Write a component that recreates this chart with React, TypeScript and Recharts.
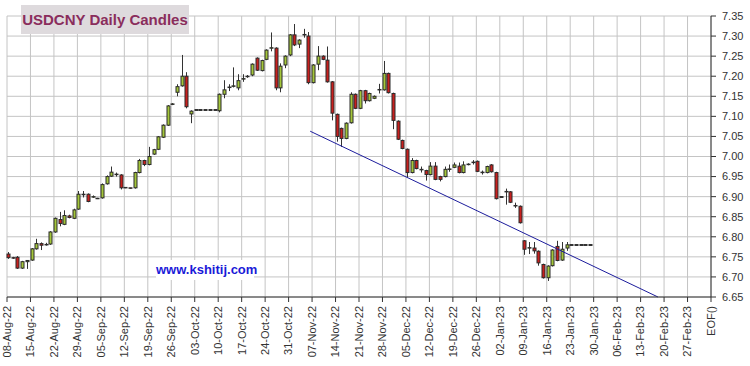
import React from 'react';
import { ComposedChart, Bar, XAxis, YAxis, CartesianGrid, ReferenceLine } from 'recharts';

// week starts shown on the x axis (one gridline per Monday), plus the end-of-frame marker
const weekLabels = [
  '08-Aug-22', '15-Aug-22', '22-Aug-22', '29-Aug-22', '05-Sep-22', '12-Sep-22',
  '19-Sep-22', '26-Sep-22', '03-Oct-22', '10-Oct-22', '17-Oct-22', '24-Oct-22',
  '31-Oct-22', '07-Nov-22', '14-Nov-22', '21-Nov-22', '28-Nov-22', '05-Dec-22',
  '12-Dec-22', '19-Dec-22', '26-Dec-22', '02-Jan-23', '09-Jan-23', '16-Jan-23',
  '23-Jan-23', '30-Jan-23', '06-Feb-23', '13-Feb-23', '20-Feb-23', '27-Feb-23',
];
const endLabel = 'EOF()';

// daily OHLC, one row per week (Mon..Fri)
const opens = [
  6.757, 6.748, 6.749, 6.722, 6.738,
  6.742, 6.770, 6.783, 6.780, 6.782,
  6.812, 6.843, 6.831, 6.852, 6.846,
  6.869, 6.906, 6.906, 6.899, 6.895,
  6.897, 6.932, 6.951, 6.956, 6.954,
  6.922, 6.922, 6.922, 6.960, 6.990,
  6.980, 7.006, 7.018, 7.048, 7.078,
  7.130, 7.160, 7.176, 7.200, 7.106,
  7.115, 7.115, 7.115, 7.115, 7.115,
  7.114, 7.155, 7.172, 7.175, 7.171,
  7.193, 7.199, 7.203, 7.245, 7.214,
  7.242, 7.270, 7.270, 7.171, 7.228,
  7.253, 7.303, 7.280, 7.304, 7.300,
  7.184, 7.230, 7.250, 7.240, 7.186,
  7.105, 7.070, 7.045, 7.084, 7.155,
  7.120, 7.164, 7.139, 7.145, 7.166,
  7.166, 7.207, 7.157, 7.088, 7.040,
  7.018, 6.960, 6.990, 6.968, 6.965,
  6.955, 6.976, 6.950, 6.950, 6.968,
  6.973, 6.976, 6.960, 6.980, 6.985,
  6.988, 6.960, 6.960, 6.979, 6.960,
  6.898, 6.912, 6.912, 6.877, 6.876,
  6.790, 6.772, 6.772, 6.764, 6.731,
  6.698, 6.728, 6.776, 6.742, 6.772,
  6.780, 6.780, 6.780, 6.780, 6.780,
];
const highs = [
  6.762, 6.750, 6.752, 6.740, 6.742,
  6.772, 6.795, 6.786, 6.785, 6.814,
  6.848, 6.862, 6.866, 6.855, 6.870,
  6.914, 6.914, 6.908, 6.903, 6.897,
  6.933, 6.953, 6.975, 6.960, 6.956,
  6.923, 6.922, 6.962, 6.994, 6.992,
  7.024, 7.019, 7.051, 7.080, 7.128,
  7.133, 7.180, 7.253, 7.210, 7.115,
  7.115, 7.115, 7.115, 7.115, 7.115,
  7.157, 7.190, 7.180, 7.222, 7.205,
  7.205, 7.203, 7.232, 7.247, 7.241,
  7.267, 7.309, 7.272, 7.232, 7.252,
  7.305, 7.330, 7.292, 7.318, 7.310,
  7.230, 7.275, 7.252, 7.274, 7.188,
  7.107, 7.072, 7.085, 7.160, 7.157,
  7.166, 7.166, 7.159, 7.152, 7.181,
  7.238, 7.209, 7.159, 7.090, 7.042,
  7.020, 6.996, 6.992, 6.975, 6.967,
  6.986, 6.986, 6.952, 6.975, 6.980,
  6.985, 6.985, 6.988, 6.983, 6.991,
  6.990, 6.965, 6.977, 6.981, 6.962,
  6.898, 6.920, 6.914, 6.885, 6.878,
  6.792, 6.787, 6.787, 6.766, 6.733,
  6.729, 6.769, 6.790, 6.787, 6.787,
  6.780, 6.780, 6.780, 6.780, 6.780,
];
const lows = [
  6.745, 6.745, 6.720, 6.720, 6.720,
  6.740, 6.768, 6.767, 6.778, 6.780,
  6.810, 6.826, 6.829, 6.846, 6.844,
  6.867, 6.898, 6.886, 6.897, 6.894,
  6.895, 6.930, 6.949, 6.950, 6.918,
  6.921, 6.920, 6.920, 6.958, 6.976,
  6.978, 7.004, 7.016, 7.046, 7.076,
  7.128, 7.150, 7.174, 7.120, 7.083,
  7.115, 7.115, 7.115, 7.115, 7.115,
  7.110, 7.145, 7.163, 7.172, 7.165,
  7.186, 7.196, 7.200, 7.213, 7.212,
  7.240, 7.262, 7.165, 7.160, 7.220,
  7.250, 7.275, 7.270, 7.296, 7.180,
  7.182, 7.215, 7.240, 7.184, 7.090,
  7.037, 7.024, 7.043, 7.082, 7.118,
  7.118, 7.132, 7.137, 7.143, 7.157,
  7.164, 7.157, 7.068, 7.041, 7.018,
  6.948, 6.958, 6.968, 6.960, 6.940,
  6.953, 6.941, 6.938, 6.948, 6.962,
  6.971, 6.958, 6.958, 6.978, 6.980,
  6.961, 6.955, 6.958, 6.960, 6.893,
  6.898, 6.880, 6.884, 6.872, 6.833,
  6.755, 6.757, 6.758, 6.728, 6.696,
  6.690, 6.726, 6.739, 6.740, 6.765,
  6.780, 6.780, 6.780, 6.780, 6.780,
];
const closes = [
  6.748, 6.747, 6.722, 6.738, 6.741,
  6.770, 6.783, 6.779, 6.781, 6.812,
  6.846, 6.833, 6.853, 6.848, 6.867,
  6.906, 6.905, 6.888, 6.900, 6.896,
  6.930, 6.950, 6.961, 6.955, 6.922,
  6.923, 6.921, 6.960, 6.990, 6.980,
  7.000, 7.017, 7.049, 7.078, 7.126,
  7.131, 7.174, 7.200, 7.124, 7.113,
  7.115, 7.115, 7.115, 7.115, 7.115,
  7.155, 7.166, 7.173, 7.176, 7.189,
  7.194, 7.200, 7.230, 7.215, 7.239,
  7.265, 7.271, 7.171, 7.225, 7.250,
  7.303, 7.278, 7.290, 7.303, 7.184,
  7.228, 7.250, 7.242, 7.186, 7.108,
  7.050, 7.045, 7.083, 7.155, 7.120,
  7.164, 7.139, 7.157, 7.150, 7.167,
  7.207, 7.159, 7.090, 7.043, 7.020,
  6.960, 6.990, 6.970, 6.967, 6.955,
  6.976, 6.943, 6.943, 6.968, 6.969,
  6.979, 6.960, 6.979, 6.981, 6.986,
  6.963, 6.961, 6.975, 6.962, 6.895,
  6.898, 6.913, 6.886, 6.878, 6.835,
  6.769, 6.773, 6.765, 6.735, 6.698,
  6.727, 6.767, 6.741, 6.769, 6.780,
  6.780, 6.780, 6.780, 6.780, 6.780,
];

const yTicks = [6.65, 6.7, 6.75, 6.8, 6.85, 6.9, 6.95, 7.0, 7.05, 7.1, 7.15, 7.2, 7.25, 7.3, 7.35];

// trend line drawn under the lows: [day slot, price]
const trendFrom = [64.6, 7.063];
const trendTo = [138.7, 6.65];

const DAYS_PER_WEEK = 5;
const TOTAL_SLOTS = weekLabels.length * DAYS_PER_WEEK;

const candles = opens.map((o, i) => ({
  slot: i + 0.3,
  open: o,
  high: highs[i],
  low: lows[i],
  close: closes[i],
  range: [lows[i], highs[i]],
}));

const xTicks = [...weekLabels.map((_, w) => w * DAYS_PER_WEEK), TOTAL_SLOTS];

function tickLabel(v: number) {
  if (v >= TOTAL_SLOTS) return endLabel;
  return weekLabels[Math.round(v / DAYS_PER_WEEK)];
}

function Candle(props: any) {
  const { x, y, width, height, payload } = props;
  if (x == null || y == null || !payload) return null;
  const { open, close, high, low } = payload;
  const cx = Math.round(x + width / 2) + 0.5;
  const toPx = (v: number) => (high === low ? y : y + ((high - v) / (high - low)) * height);
  if (high === low) {
    return <rect x={cx - 2} y={Math.round(y) - 1} width={4} height={2} fill="#333" />;
  }
  const up = close >= open;
  const top = toPx(Math.max(open, close));
  const bottom = toPx(Math.min(open, close));
  const bodyH = Math.max(bottom - top, 0.5);
  return (
    <g>
      <line x1={cx} x2={cx} y1={toPx(high)} y2={toPx(low)} stroke="#333" strokeWidth={1} />
      <rect
        x={cx - 1.5}
        y={top}
        width={3}
        height={bodyH}
        fill={up ? '#a4c63a' : '#c8201e'}
        stroke="#2b2b2b"
        strokeWidth={1}
      />
    </g>
  );
}

function DateTick(props: any) {
  const { x, y, payload } = props;
  return (
    <text
      x={x}
      y={y}
      dy="0.35em"
      transform={`rotate(-90 ${x} ${y})`}
      textAnchor="end"
      fontSize={11}
      fill="#333"
      fontFamily="Arial, 'Liberation Sans', sans-serif"
    >
      {tickLabel(payload.value)}
    </text>
  );
}

export default function App() {
  return (
    <div
      style={{
        position: 'absolute',
        top: 0,
        left: 0,
        width: 750,
        height: 366,
        background: '#fff',
        fontFamily: "Arial, 'Liberation Sans', sans-serif",
      }}
    >
      <ComposedChart
        width={750}
        height={366}
        data={candles}
        margin={{ top: 16, right: 0, left: 7, bottom: 0 }}
      >
        <CartesianGrid stroke="#c4c4c4" strokeWidth={1} />
        <XAxis
          dataKey="slot"
          type="number"
          domain={[0, TOTAL_SLOTS]}
          ticks={xTicks}
          interval={0}
          height={69}
          tick={<DateTick />}
          tickSize={5}
          tickMargin={4}
          stroke="#333"
          allowDecimals
        />
        <YAxis
          orientation="right"
          domain={[6.65, 7.35]}
          ticks={yTicks}
          interval={0}
          width={39}
          tickSize={5}
          tickMargin={6}
          tickFormatter={(v: number) => v.toFixed(2)}
          tick={{ fontSize: 11, fill: '#333' }}
          stroke="#333"
        />
        <Bar dataKey="range" barSize={4} shape={<Candle />} isAnimationActive={false} />
        <ReferenceLine
          segment={[
            { x: trendFrom[0], y: trendFrom[1] },
            { x: trendTo[0], y: trendTo[1] },
          ]}
          stroke="#1c1c9c"
          strokeWidth={1}
          ifOverflow="visible"
        />
      </ComposedChart>
      <div
        style={{
          position: 'absolute',
          left: 21,
          top: 5,
          width: 168,
          height: 29,
          background: '#dedadd',
          color: '#8a2d5c',
          fontWeight: 'bold',
          fontSize: 15,
          lineHeight: '29px',
          textAlign: 'center',
        }}
      >
        USDCNY Daily Candles
      </div>
      <div
        style={{
          position: 'absolute',
          left: 156,
          top: 260,
          width: 98,
          height: 20,
          background: '#fff',
          color: '#1a1ad8',
          fontWeight: 'bold',
          fontSize: 13,
          lineHeight: '20px',
          textAlign: 'center',
        }}
      >
        www.kshitij.com
      </div>
    </div>
  );
}
